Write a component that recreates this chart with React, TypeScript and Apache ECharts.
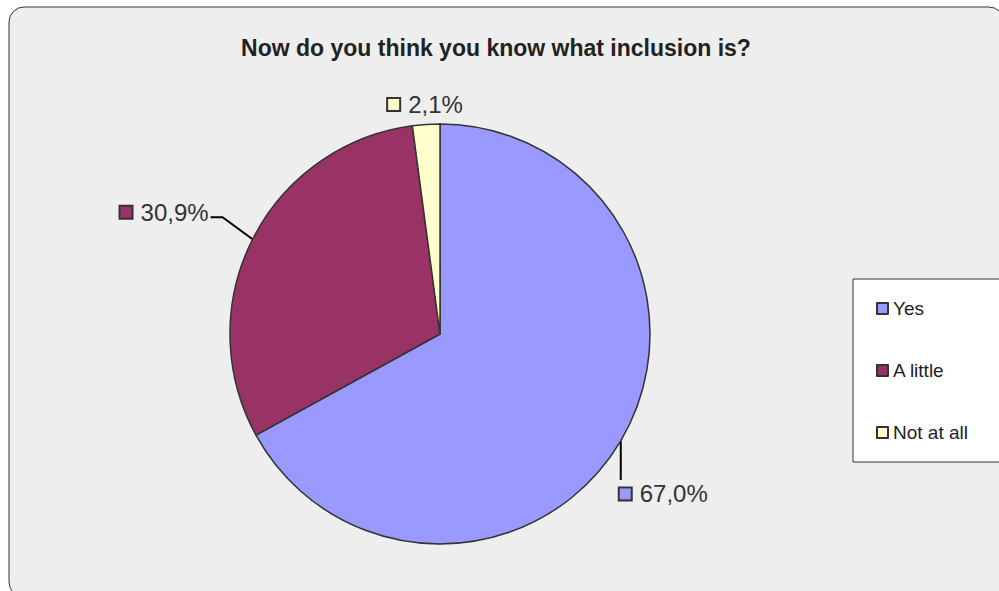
import React, { useEffect, useRef } from "react";
import * as echarts from "echarts";

const TITLE = "Now do you think you know what inclusion is?";
const categories = ["Yes", "A little", "Not at all"];
const values = [67.0, 30.9, 2.1];
const colors = ["#9999FF", "#993366", "#FFFFCC"];

const FONT = "'Liberation Sans', Arial, Helvetica, sans-serif";

export default function App() {
  const ref = useRef<HTMLDivElement>(null);

  useEffect(() => {
    if (!ref.current) return;
    const chart = echarts.init(ref.current, undefined, { renderer: "svg" });

    const rich: Record<string, any> = {
      v: { fontSize: 24, color: "#333", fontFamily: FONT, padding: [0, 0, 0, 9] },
    };
    colors.forEach((c, i) => {
      rich["sq" + i] = {
        width: 11,
        height: 11,
        backgroundColor: c,
        borderColor: "#333",
        borderWidth: 2,
      };
    });

    const option: any = {
      animation: false,
      backgroundColor: "#ffffff",
      graphic: [
        {
          type: "rect",
          z: -10,
          silent: true,
          shape: { x: 9, y: 7, width: 995, height: 590, r: 15 },
          style: { fill: "#EEEEEE", stroke: "#333", lineWidth: 1 },
        },
      ],
      title: {
        text: TITLE,
        left: 491,
        top: 31,
        textAlign: "center",
        textStyle: {
          fontFamily: FONT,
          fontSize: 23,
          fontWeight: "bold",
          color: "#222",
        },
      },
      legend: {
        orient: "vertical",
        left: 853,
        top: 279,
        padding: [20, 40, 20, 23],
        itemGap: 43,
        itemWidth: 11,
        itemHeight: 11,
        icon: "rect",
        backgroundColor: "#ffffff",
        borderColor: "#333",
        borderWidth: 1,
        data: categories,
        itemStyle: { borderColor: "#333", borderWidth: 2 },
        textStyle: { fontFamily: FONT, fontSize: 19, color: "#222" },
      },
      series: [
        {
          type: "pie",
          center: [440, 334],
          radius: 210,
          startAngle: 90,
          clockwise: true,
          avoidLabelOverlap: false,
          itemStyle: { borderColor: "#333", borderWidth: 1.5 },
          label: {
            show: true,
            position: "outside",
            formatter: (p: any) =>
              `{sq${p.dataIndex}|}{v|${Number(p.value).toFixed(1).replace(".", ",")}%}`,
            rich,
          },
          labelLine: {
            show: true,
            length: 20,
            length2: 10,
            lineStyle: { color: "#000", width: 2 },
          },
          labelLayout: (params: any) => {
            const pts = params.labelLinePoints;
            if (!pts || !pts[0]) return {};
            const ax = pts[0][0];
            const ay = pts[0][1];
            if (params.dataIndex === 0) {
              return {
                x: ax - 1,
                y: ay + 53,
                align: "left",
                verticalAlign: "middle",
                labelLinePoints: [
                  [ax, ay],
                  [ax, ay + 39],
                  [ax, ay + 39],
                ],
              };
            }
            if (params.dataIndex === 1) {
              return {
                x: ax - 44,
                y: ay - 27,
                align: "right",
                verticalAlign: "middle",
                labelLinePoints: [
                  [ax, ay],
                  [ax - 30, ay - 22],
                  [ax - 42, ay - 22],
                ],
              };
            }
            return {
              x: ax - 38,
              y: ay - 20,
              align: "left",
              verticalAlign: "middle",
              labelLinePoints: [
                [ax, ay],
                [ax, ay],
                [ax, ay],
              ],
            };
          },
          data: categories.map((name, i) => ({
            name,
            value: values[i],
            itemStyle: { color: colors[i] },
          })),
        },
      ],
    };

    chart.setOption(option);
    return () => chart.dispose();
  }, []);

  return (
    <div
      ref={ref}
      style={{ position: "absolute", left: 0, top: 0, width: 999, height: 591 }}
    />
  );
}
